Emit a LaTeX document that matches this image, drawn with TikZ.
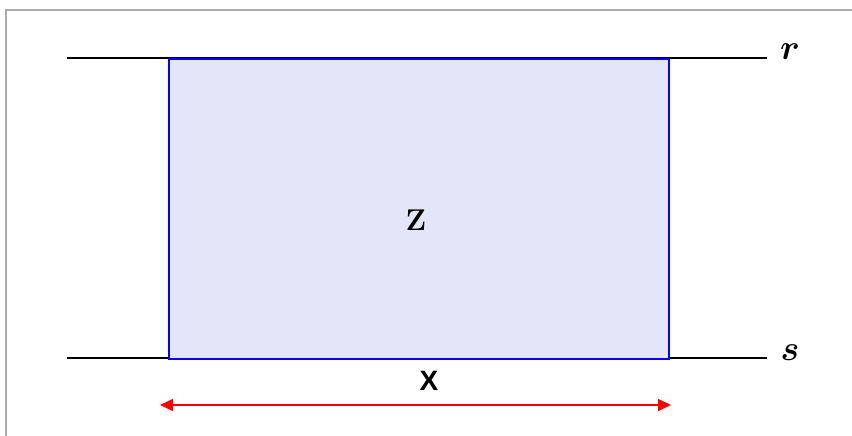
\documentclass[tikz,border=0pt]{standalone}
\usepackage{graphicx}
\usepackage{amsmath,bm}
\usepackage{fontspec}
\newfontfamily\arialbold[BoldFont=*]{Liberation Sans Bold}
\usetikzlibrary{arrows.meta}
\definecolor{lav}{RGB}{229,229,250}
\definecolor{bord}{RGB}{170,170,170}
\tikzset{
  guide/.style={black, line width=1.8pt},
  strip/.style={draw=blue, fill=lav, line width=1.6pt},
  meas/.style={red, line width=1.6pt, {Triangle[length=13pt,width=12pt]}-{Triangle[length=13pt,width=12pt]}},
  lbl/.style={inner sep=0pt, anchor=center},
  mlbl/.style={lbl, font=\fontsize{20}{20}\selectfont}
}
\begin{document}
\begin{tikzpicture}[x=1pt,y=-1pt]
\useasboundingbox (0,0) rectangle (852,436);
\draw[bord, line width=2pt] (6,436) -- (6,10) -- (852,10);
\coordinate (rl) at (67,58);
\coordinate (rr) at (767,58);
\coordinate (sl) at (67,358);
\coordinate (sr) at (767,358);
\draw[guide] (rl) -- (rr);
\draw[guide] (sl) -- (sr);
\node[strip, minimum width=500pt, minimum height=300pt, anchor=north west, inner sep=0pt] (box) at (168,58) {};
\node[lbl, font=\fontsize{30}{30}\selectfont\bfseries] (z) at (416,220) {Z};
\node[lbl, font=\fontsize{28}{28}\selectfont\arialbold] (x) at (429,381) {X};
\node[mlbl] (r) at (790,52) {\scalebox{1.7}{$\bm{r}$}};
\node[mlbl] (s) at (790,353) {\scalebox{1.7}{$\bm{s}$}};
\coordinate (al) at (160,405);
\coordinate (ar) at (671,405);
\draw[meas] (al) -- (ar);
\end{tikzpicture}
\end{document}
